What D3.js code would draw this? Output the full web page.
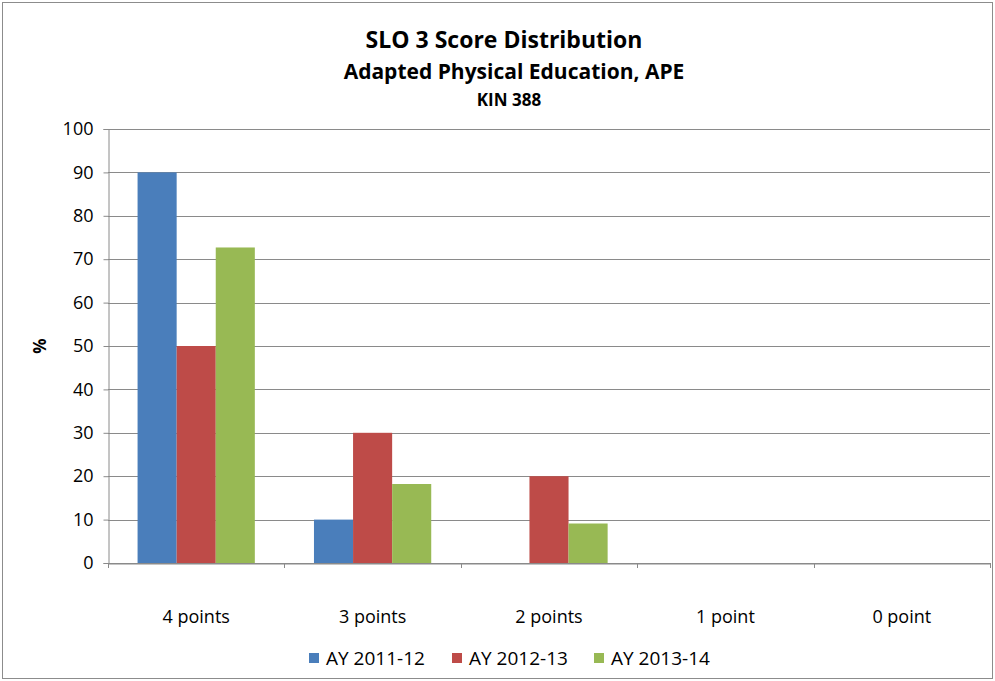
<!DOCTYPE html>
<html>
<head>
<meta charset="utf-8">
<script src="https://cdn.jsdelivr.net/npm/d3@7"></script>
<style>
  body { margin: 0; background: #fff; }
  text { font-family: "Open Sans", "DejaVu Sans", sans-serif; fill: #000; }
</style>
</head>
<body>
<div class="chart"></div>
<script>
var categories = ["4 points", "3 points", "2 points", "1 point", "0 point"];
var seriesNames = ["AY 2011-12", "AY 2012-13", "AY 2013-14"];
var ay1112 = [90, 10, 0, 0, 0];
var ay1213 = [50, 30, 20, 0, 0];
var ay1314 = [72.7, 18.2, 9.1, 0, 0];
var yTicks = [0, 10, 20, 30, 40, 50, 60, 70, 80, 90, 100];
var colors = ["#4a7ebb", "#be4b48", "#98b954"];

var series = [ay1112, ay1213, ay1314];

var W = 995, H = 681;
var plotLeft = 108, plotRight = 990, plotTop = 129, plotBottom = 563;

var svg = d3.select(".chart")
    .append("svg")
    .attr("width", W)
    .attr("height", H)

// chart border
svg.append("rect")
    .attr("x", 2.5).attr("y", 2.5)
    .attr("width", W - 5).attr("height", H - 5)
    .attr("fill", "#fff")
    .attr("stroke", "#8c8c8c")

var x = d3.scaleBand().domain(categories).range([plotLeft, plotRight]);
var x1 = d3.scaleBand().domain(d3.range(series.length))
    .range([0, x.bandwidth()]).paddingOuter(0.5 * 59 / 39).paddingInner(0);
var y = d3.scaleLinear().domain([0, 100]).range([plotBottom, plotTop]);

// gridlines
svg.append("g")
    .selectAll("line")
    .data(yTicks)
    .enter()
    .append("line")
    .attr("x1", plotLeft).attr("x2", plotRight)
    .attr("y1", function (d) { return Math.round(y(d)) + 0.5; })
    .attr("y2", function (d) { return Math.round(y(d)) + 0.5; })
    .attr("stroke", "#8a8a8a")

// bars
series.forEach(function (vals, s) {
    svg.append("g")
        .selectAll("rect")
        .data(vals)
        .enter()
        .append("rect")
        .attr("x", function (d, i) { return x(categories[i]) + x1(s); })
        .attr("width", x1.bandwidth())
        .attr("y", function (d) { return y(d); })
        .attr("height", function (d) { return y(0) - y(d); })
        .style("fill", colors[s])
});

// y axis
var yAxis = svg.append("g")
    .attr("transform", "translate(" + (plotLeft + 0.5) + ",0)")
    .call(d3.axisLeft(y).tickValues(yTicks).tickSize(5).tickPadding(10));
yAxis.select(".domain").attr("stroke", "#8a8a8a");
yAxis.selectAll(".tick line").attr("stroke", "#8a8a8a");
yAxis.selectAll("text")
    .style("font-size", "18px")
    .attr("font-family", "DejaVu Sans, sans-serif")
    .attr("fill", "#000")

// x axis
var xAxis = svg.append("g")
    .attr("transform", "translate(0," + (Math.round(y(0)) + 0.5) + ")")
    .call(d3.axisBottom(x).tickSize(0).tickPadding(47));
xAxis.select(".domain").attr("stroke", "#8a8a8a");
xAxis.selectAll("text")
    .style("font-size", "18px")
    .attr("fill", "#000")
// boundary tick marks
svg.append("g")
    .selectAll("line")
    .data(categories.concat(["end"]))
    .enter()
    .append("line")
    .attr("x1", function (d, i) { return Math.round(plotLeft + i * x.bandwidth()) + 0.5; })
    .attr("x2", function (d, i) { return Math.round(plotLeft + i * x.bandwidth()) + 0.5; })
    .attr("y1", y(0)).attr("y2", y(0) + 5)
    .attr("stroke", "#8a8a8a")

// titles
svg.append("text")
    .attr("x", 504).attr("y", 48)
    .attr("text-anchor", "middle")
    .style("font-size", "23px").style("font-weight", "bold")
    .text("SLO 3 Score Distribution")
svg.append("text")
    .attr("x", 514).attr("y", 79)
    .attr("text-anchor", "middle")
    .style("font-size", "21px").style("font-weight", "bold")
    .text("Adapted Physical Education, APE")
svg.append("text")
    .attr("x", 509).attr("y", 106)
    .attr("text-anchor", "middle")
    .style("font-size", "17px").style("font-weight", "bold")
    .text("KIN 388")

// y axis title
svg.append("text")
    .attr("transform", "translate(46,346) rotate(-90)")
    .attr("text-anchor", "middle")
    .style("font-size", "17px").style("font-weight", "bold")
    .text("%")

// legend
var legendX = [309, 452, 594];
var legend = svg.append("g")
    .selectAll("g")
    .data(seriesNames)
    .enter()
    .append("g")
    .attr("transform", function (d, i) { return "translate(" + legendX[i] + ",658)"; });
legend.append("rect")
    .attr("x", 0).attr("y", -5)
    .attr("width", 10).attr("height", 10)
    .style("fill", function (d, i) { return colors[i]; });
legend.append("text")
    .attr("x", 17).attr("y", 7)
    .style("font-size", "19px")
    .text(function (d) { return d; });
</script>
</body>
</html>
